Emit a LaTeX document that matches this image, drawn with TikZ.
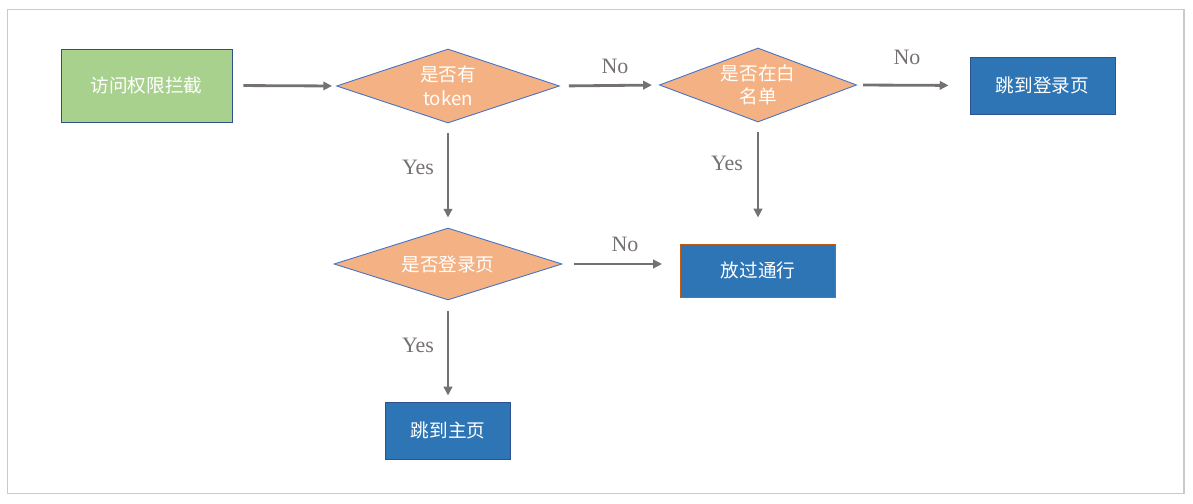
\documentclass[tikz,border=0pt]{standalone}
\usepackage{fontspec}
\newfontfamily\cjk{Noto Sans CJK SC}
\newfontfamily\lblfont{Liberation Serif}
\usetikzlibrary{shapes.geometric,arrows.meta}

\definecolor{startgreen}{HTML}{A9D18E}
\definecolor{askorange}{HTML}{F4B183}
\definecolor{endblue}{HTML}{2E75B6}
\definecolor{edgeblue}{HTML}{2F528F}
\definecolor{thinblue}{HTML}{4472C4}
\definecolor{passbrown}{HTML}{C55A11}
\definecolor{arrowgray}{HTML}{767171}
\definecolor{framegray}{HTML}{CACACA}

\tikzset{
  boxbase/.style={rectangle, draw, line width=0.55pt, inner sep=0pt, text=white,
    font=\cjk\fontsize{10.6}{13.5}\selectfont, align=center},
  startbox/.style={boxbase, fill=startgreen, draw=edgeblue},
  endbox/.style={boxbase, fill=endblue, draw=edgeblue},
  askbox/.style={diamond, draw=thinblue, line width=0.5pt, fill=askorange, inner sep=0pt,
    shape aspect=3, text=white, font=\cjk\fontsize{10.6}{13.5}\selectfont, align=center},
  arr/.style={draw=arrowgray, line width=1.6pt,
    -{Triangle[length=5pt,width=4.8pt]}},
  lbl/.style={text=arrowgray, font=\lblfont\fontsize{12.5}{13}\selectfont, inner sep=0pt}
}

\begin{document}
\begin{tikzpicture}
\useasboundingbox (0,0) rectangle (23.86,-10.08);
\draw[framegray, line width=0.6pt] (0.15,-0.19) rectangle (23.68,-9.87); % frame

% nodes
\node[startbox, minimum width=3.42cm, minimum height=1.46cm] (start) at (2.93,-1.71) {访问权限拦截};
\node[askbox, minimum width=4.46cm, minimum height=1.48cm] (token) at (8.96,-1.72) {是否有\\token};
\node[askbox, minimum width=3.94cm, minimum height=1.48cm] (white) at (15.16,-1.70) {是否在白\\名单};
\node[endbox, minimum width=2.9cm, minimum height=1.14cm] (login) at (20.85,-1.71) {跳到登录页};
\node[askbox, minimum width=4.56cm, minimum height=1.44cm] (islogin) at (8.96,-5.28) {是否登录页};
\node[endbox, draw=passbrown, minimum width=3.1cm, minimum height=1.06cm] (pass) at (15.16,-5.41) {放过通行};
\node[endbox, minimum width=2.5cm, minimum height=1.14cm] (home) at (8.96,-8.61) {跳到主页};

% labels
\node[lbl] (no1) at (12.30,-1.32) {No};
\node[lbl] (no2) at (18.14,-1.14) {No};
\node[lbl] (no3) at (12.50,-4.88) {No};
\node[lbl] (yes1) at (8.36,-3.34) {Yes};
\node[lbl] (yes2) at (14.54,-3.26) {Yes};
\node[lbl] (yes3) at (8.36,-6.90) {Yes};

% connectors
\draw[arr, shorten <=0.22cm, shorten >=0.08cm] (start.east) -- (token.west);
\draw[arr, shorten <=0.18cm, shorten >=0.14cm] (token.east) -- (white.west);
\draw[arr, shorten <=0.12cm, shorten >=0.42cm] (white.east) -- (login.west);
\draw[arr, shorten <=0.2cm, shorten >=0.2cm] (token.south) -- (islogin.north);
\draw[arr, shorten <=0.2cm, shorten >=0.52cm] (white.south) -- (pass.north);
\draw[arr, shorten <=0.24cm, shorten >=0.36cm] (islogin.east) -- (islogin.east -| pass.west);
\draw[arr, shorten <=0.22cm, shorten >=0.12cm] (islogin.south) -- (home.north);

\end{tikzpicture}
\end{document}
